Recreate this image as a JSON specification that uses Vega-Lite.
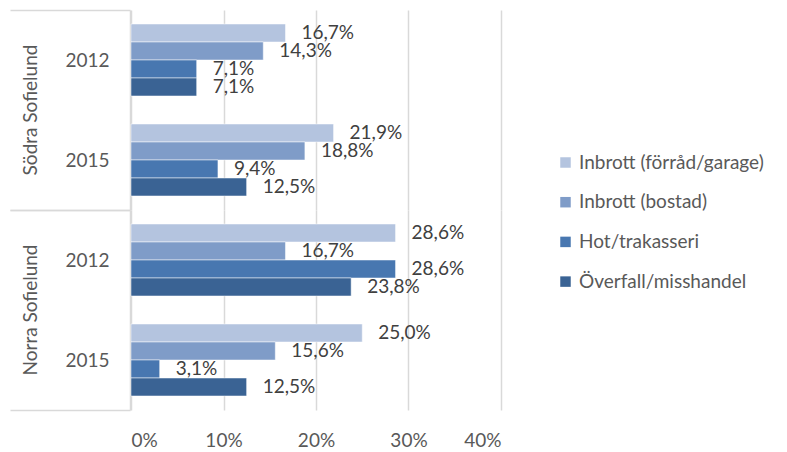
{
  "$schema": "https://vega.github.io/schema/vega-lite/v6.json",
  "padding": {"top": 1, "left": 9, "right": 5, "bottom": 0},
  "data": {"values": [
    {"area": "Södra Sofielund", "year": "2012", "type": "Inbrott (förråd/garage)", "value": 0.167},
    {"area": "Södra Sofielund", "year": "2012", "type": "Inbrott (bostad)", "value": 0.143},
    {"area": "Södra Sofielund", "year": "2012", "type": "Hot/trakasseri", "value": 0.071},
    {"area": "Södra Sofielund", "year": "2012", "type": "Överfall/misshandel", "value": 0.071},
    {"area": "Södra Sofielund", "year": "2015", "type": "Inbrott (förråd/garage)", "value": 0.219},
    {"area": "Södra Sofielund", "year": "2015", "type": "Inbrott (bostad)", "value": 0.188},
    {"area": "Södra Sofielund", "year": "2015", "type": "Hot/trakasseri", "value": 0.094},
    {"area": "Södra Sofielund", "year": "2015", "type": "Överfall/misshandel", "value": 0.125},
    {"area": "Norra Sofielund", "year": "2012", "type": "Inbrott (förråd/garage)", "value": 0.286},
    {"area": "Norra Sofielund", "year": "2012", "type": "Inbrott (bostad)", "value": 0.167},
    {"area": "Norra Sofielund", "year": "2012", "type": "Hot/trakasseri", "value": 0.286},
    {"area": "Norra Sofielund", "year": "2012", "type": "Överfall/misshandel", "value": 0.238},
    {"area": "Norra Sofielund", "year": "2015", "type": "Inbrott (förråd/garage)", "value": 0.25},
    {"area": "Norra Sofielund", "year": "2015", "type": "Inbrott (bostad)", "value": 0.156},
    {"area": "Norra Sofielund", "year": "2015", "type": "Hot/trakasseri", "value": 0.031},
    {"area": "Norra Sofielund", "year": "2015", "type": "Överfall/misshandel", "value": 0.125}
  ]},
  "facet": {
    "row": {
      "field": "area", "type": "nominal",
      "sort": ["Södra Sofielund", "Norra Sofielund"],
      "header": {"title": null, "labelOrient": "left", "labelAngle": -90, "labelFontSize": 19, "labelColor": "#595959", "labelFont": "Lato", "labelPadding": -41}
    }
  },
  "spacing": 0,
  "spec": {
    "width": 370,
    "height": 200,
    "encoding": {
      "y": {
        "field": "year", "type": "nominal", "sort": ["2012", "2015"],
        "scale": {"paddingInner": 0, "paddingOuter": 0},
        "axis": {"title": null, "tickBand": "extent", "tickSize": 120, "tickColor": "#d9d9d9", "tickWidth": 1.5,
                 "tickOpacity": {"condition": {"test": "datum.value == '2012'", "value": 0}, "value": 1},
                 "domainColor": "#d9d9d9", "domainWidth": 1.5, "labelPadding": -99, "labelFontSize": 19,
                 "labelColor": "#595959", "labelFont": "Lato"}
      },
      "yOffset": {"field": "type", "type": "nominal", "sort": ["Inbrott (förråd/garage)", "Inbrott (bostad)", "Hot/trakasseri", "Överfall/misshandel"], "scale": {"paddingInner": 0, "paddingOuter": 0.778}},
      "x": {
        "field": "value", "type": "quantitative",
        "scale": {"domain": [0, 0.4]},
        "axis": {"title": null, "format": ".0%", "values": [0, 0.1, 0.2, 0.3, 0.4], "domain": false, "ticks": false,
                 "grid": true, "gridColor": "#d9d9d9", "gridWidth": 1.5, "labelPadding": 21, "labelFontSize": 19,
                 "labelColor": "#595959", "labelFont": "Lato"}
      }
    },
    "layer": [
      {
        "mark": {"type": "bar", "stroke": "white", "strokeWidth": 0.5},
        "encoding": {
          "color": {
            "field": "type", "type": "nominal",
            "sort": ["Inbrott (förråd/garage)", "Inbrott (bostad)", "Hot/trakasseri", "Överfall/misshandel"],
            "scale": {"domain": ["Inbrott (förråd/garage)", "Inbrott (bostad)", "Hot/trakasseri", "Överfall/misshandel"],
                      "range": ["#B4C4DF", "#7F9CC8", "#4877B0", "#3A6394"]},
            "legend": {"title": null, "orient": "none", "legendX": 425, "legendY": 143, "symbolType": "square",
                       "symbolSize": 110, "symbolStrokeWidth": 0, "labelFontSize": 19, "labelColor": "#595959",
                       "labelFont": "Lato", "labelLimit": 0, "rowPadding": 19.7, "labelOffset": 4}
          }
        }
      },
      {
        "mark": {"type": "text", "align": "left", "baseline": "middle", "dx": 16, "fontSize": 19, "color": "#404040", "font": "Lato"},
        "encoding": {"text": {"field": "value", "type": "quantitative", "format": ".1%"}}
      }
    ]
  },
  "config": {
    "locale": {"number": {"decimal": ",", "thousands": "\u00a0", "grouping": [3], "currency": ["", " kr"]}},
    "view": {"stroke": null},
    "axis": {"labelFont": "Lato"}
  }
}
